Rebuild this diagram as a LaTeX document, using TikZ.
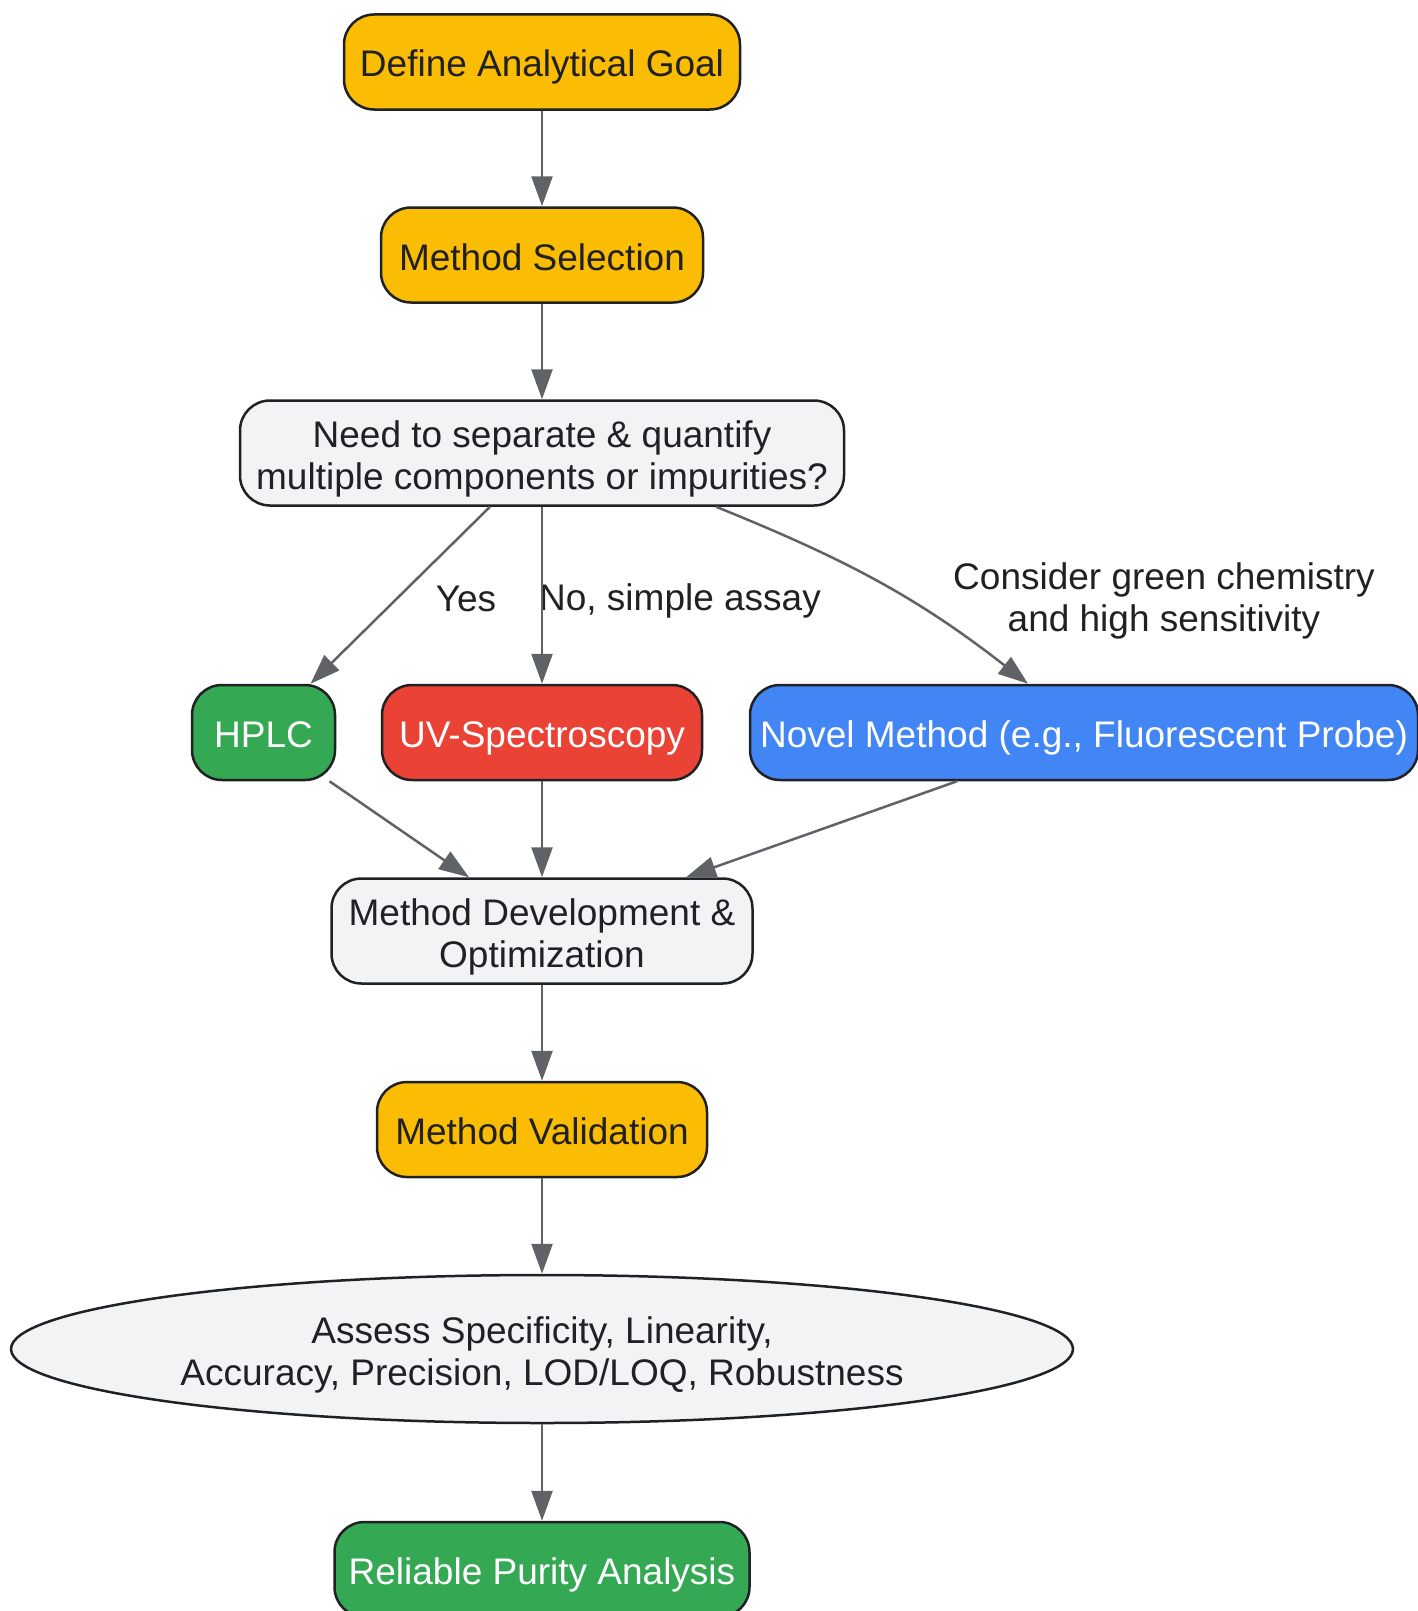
\documentclass[tikz,border=0pt]{standalone}
\usepackage{fontspec}
\setmainfont{Liberation Sans}
\usetikzlibrary{arrows.meta,shapes.geometric}
\definecolor{gyellow}{HTML}{FBBC04}
\definecolor{ggreen}{HTML}{34A853}
\definecolor{gred}{HTML}{EA4335}
\definecolor{gblue}{HTML}{4285F4}
\definecolor{ggray}{HTML}{F1F3F4}
\definecolor{gdark}{HTML}{202124}
\definecolor{garrow}{HTML}{5F6368}
\newcommand{\strt}{\rule[-8pt]{0pt}{46pt}}
\tikzset{
  base/.style={draw=gdark, line width=2.5pt, inner sep=0pt, align=center,
    font=\fontsize{37}{42}\selectfont},
  rbox/.style={base, rectangle, rounded corners=30pt, minimum height=95pt},
  ybox/.style={rbox, fill=gyellow, text=gdark},
  gbox/.style={rbox, fill=ggreen, text=white},
  redbox/.style={rbox, fill=gred, text=white},
  bbox/.style={rbox, fill=gblue, text=white},
  graybox/.style={rbox, fill=ggray, text=gdark, minimum height=105pt},
  ell/.style={base, ellipse, fill=ggray, text=gdark},
  conn/.style={draw=garrow, line width=2.5pt, -{Triangle[length=30pt,width=21pt]}},
  lbl/.style={text=gdark, align=center, font=\fontsize{37}{42}\selectfont}
}
\begin{document}
\begin{tikzpicture}[x=1pt,y=-1pt]
\useasboundingbox (0,0) rectangle (1417,1611);
\node[ybox, minimum width=396pt] (goal) at (542,62) {\strt Define Analytical Goal};
\node[ybox, minimum width=322pt] (sel) at (542,255) {\strt Method Selection};
\node[graybox, minimum width=604pt] (need) at (542,453) {\strt Need to separate \& quantify\\multiple components or impurities?};
\node[gbox, minimum width=143pt] (hplc) at (263.5,732.5) {\strt HPLC};
\node[redbox, minimum width=320pt] (uv) at (542,732.5) {\strt UV-Spectroscopy};
\node[bbox, minimum width=668pt] (novel) at (1084,732.5) {\strt Novel Method (e.g., Fluorescent Probe)};
\node[graybox, minimum width=421pt] (dev) at (542,931) {\strt Method Development \&\\Optimization};
\node[ybox, minimum width=330pt] (val) at (542,1129.5) {\strt Method Validation};
\node[ell, minimum width=1062pt, minimum height=148pt] (assess) at (542,1349) {\strt Assess Specificity, Linearity,\\Accuracy, Precision, LOD/LOQ, Robustness};
\node[gbox, minimum width=415pt] (rel) at (542,1569.5) {\strt Reliable Purity Analysis};

\node[lbl] (lyes) at (466,599) {Yes};
\node[lbl] (lno) at (680,601) {No, simple assay};
\node[lbl] (lgreen) at (1164,601) {Consider green chemistry\\and high sensitivity};

\draw[conn] (goal) -- (sel);
\draw[conn] (sel) -- (need);
\draw[conn] ([xshift=-52pt]need.south) -- ([xshift=47pt]hplc.north);
\draw[conn] (need) -- (uv);
\draw[conn] ([xshift=174pt]need.south) to[out=-22,in=142] ([xshift=-56pt]novel.north);
\draw[conn] ([xshift=66pt]hplc.south) -- ([xshift=-73pt]dev.north);
\draw[conn] (uv) -- (dev);
\draw[conn] ([xshift=-127pt]novel.south) -- ([xshift=144pt]dev.north);
\draw[conn] (dev) -- (val);
\draw[conn] (val) -- (assess);
\draw[conn] (assess) -- (rel);
\end{tikzpicture}
\end{document}
